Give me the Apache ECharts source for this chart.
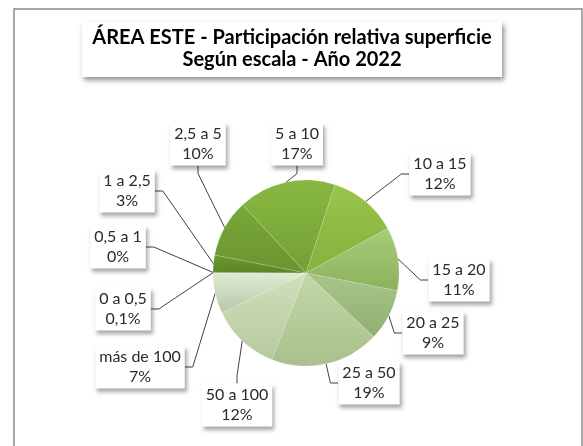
<!DOCTYPE html>
<html lang="es">
<head>
    <meta charset="UTF-8" />
    <title>Área Este - superficie</title>
    <script src="https://cdn.jsdelivr.net/npm/echarts@6/dist/echarts.min.js"></script>
    <style>
        html, body { margin: 0; padding: 0; background: #fff; }
        #main { width: 583px; height: 446px; }
    </style>
</head>
<body>
    <div id="main"></div>
    <script type="text/javascript">
        // Data (percent of surface by scale)
        let categories = ["0 a 0,5", "0,5 a 1", "1 a 2,5", "2,5 a 5", "5 a 10", "10 a 15",
            "15 a 20", "20 a 25", "25 a 50", "50 a 100", "más de 100"];
        let shares = [0.1, 0, 3, 10, 17, 12, 11, 9, 19, 12, 7];
        let titleLines = ["ÁREA ESTE - Participación relativa superficie", "Según escala - Año 2022"];

        // slice colours, top -> bottom of each gradient
        let colorsTop = ["#6a9630", "#6a9630", "#6c9a2e", "#7aa83a", "#88b842", "#98c64a",
            "#a6cc78", "#a8c68a", "#c2d8a8", "#cfe0bb", "#e0ead6"];
        let colorsBottom = ["#57801f", "#57801f", "#5b8624", "#6a9530", "#74a034", "#86b03e",
            "#8cb25e", "#8faf70", "#a9c08c", "#b6c99e", "#b8c6a8"];

        // where each label box sits (centre, px)
        let labelPos = [[123, 309], [118, 247], [127, 191], [198, 144], [297, 144], [440, 174],
            [459, 280], [433, 333], [369, 383], [237, 405], [140, 367]];

        let pieData = categories.map((c, i) => ({
            name: c,
            value: shares[i],
            itemStyle: {
                color: new echarts.graphic.LinearGradient(0, 0, 0, 1, [
                    { offset: 0, color: colorsTop[i] },
                    { offset: 1, color: colorsBottom[i] }
                ])
            }
        }));

        let options = {
            animation: false,
            graphic: [
                {
                    // outer chart frame (bottom edge is cut off)
                    type: "rect",
                    shape: { x: 14, y: 9, width: 568, height: 460 },
                    style: { fill: "none", stroke: "#8c8c8c", lineWidth: 1.5 },
                    z: -1
                },
                {
                    // title box with drop shadow
                    type: "rect",
                    shape: { x: 82, y: 22, width: 420, height: 55 },
                    style: {
                        fill: "#fff",
                        shadowColor: "rgba(0,0,0,0.45)",
                        shadowBlur: 5,
                        shadowOffsetX: 2,
                        shadowOffsetY: 3
                    },
                    z: 10
                },
                {
                    type: "text",
                    x: 292,
                    y: 49,
                    style: {
                        text: titleLines.join("\n"),
                        fontFamily: "Lato",
                        fontWeight: "bold",
                        fontSize: 20,
                        lineHeight: 22,
                        fill: "#000",
                        align: "center",
                        verticalAlign: "middle"
                    },
                    z: 11
                }
            ],
            series: [{
                type: "pie",
                center: [306, 273],
                radius: 93,
                startAngle: 180,
                clockwise: true,
                data: pieData,
                itemStyle: {
                    borderColor: "rgba(255,255,255,0.25)",
                    borderWidth: 0.5
                },
                label: {
                    show: true,
                    formatter: (p) => p.name + "\n" + String(p.value).replace(".", ",") + "%",
                    fontFamily: "Lato",
                    fontSize: 16,
                    lineHeight: 20,
                    color: "#2a2a2a",
                    align: "center",
                    backgroundColor: "#fff",
                    padding: [2, 4, 1, 4],
                    shadowColor: "rgba(0,0,0,0.35)",
                    shadowBlur: 4,
                    shadowOffsetX: 2,
                    shadowOffsetY: 3
                },
                labelLine: {
                    show: true,
                    length: 10,
                    length2: 8,
                    lineStyle: { color: "#404040", width: 1 }
                },
                labelLayout: (params) => {
                    let p = labelPos[params.dataIndex];
                    return { x: p[0], y: p[1], align: "center", verticalAlign: "middle" };
                },
                emphasis: { disabled: true }
            }]
        };

        let myChart = echarts.init(document.getElementById("main"));
        myChart.setOption(options);
    </script>
</body>
</html>
